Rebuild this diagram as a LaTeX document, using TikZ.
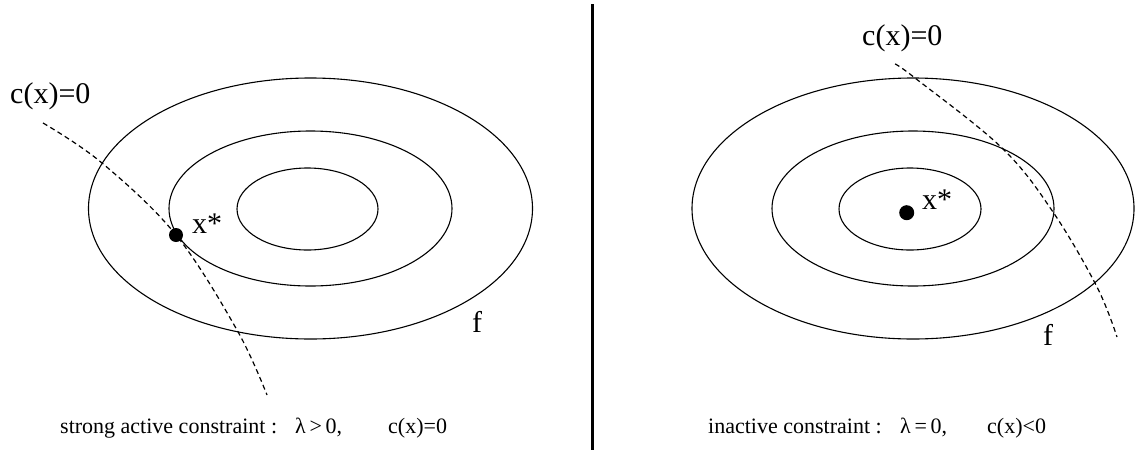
\documentclass[tikz,border=0pt]{standalone}
\usepackage{fontspec}
\setmainfont{Liberation Serif}
\begin{document}
\begin{tikzpicture}[x=1pt,y=-1pt,
  contour/.style={draw=black,line width=1.1pt},
  cdash/.style={draw=black,line width=1.2pt,dash pattern=on 5pt off 3.5pt},
  dotmark/.style={fill=black},
  biglabel/.style={inner sep=0pt,anchor=base west,font=\fontsize{30}{36}\selectfont},
  smalllabel/.style={inner sep=0pt,anchor=base west,font=\fontsize{22}{26}\selectfont},
  divider/.style={draw=black,line width=3pt}]
\useasboundingbox (0,0) rectangle (1137,450);
% ---------- left panel ----------
\coordinate (Lc) at (310.5,208.5);
\coordinate (Li) at (307.5,209);
\draw[contour] (Lc) ellipse [x radius=222, y radius=130.5];
\draw[contour] (Lc) ellipse [x radius=141.5, y radius=77.5];
\draw[contour] (Li) ellipse [x radius=70.5, y radius=41];
\draw[cdash] plot[smooth,tension=0.6] coordinates {(43,123) (102,163) (176,235) (237,330) (267,395)};
\fill[dotmark] (176,235) circle [radius=7];
\node[biglabel] (Lcx) at (10,103) {c(x)=0};
\node[biglabel] (Lxs) at (192,233) {x*};
\node[biglabel] (Lf) at (472,332) {f};
\node[smalllabel] (Lt1) at (60,433) {strong active constraint :};
\node[smalllabel] (Lt2) at (295,433) {λ\,>\,0,};
\node[smalllabel] (Lt3) at (388,433) {c(x)=0};
% ---------- divider ----------
\coordinate (Dtop) at (592,4);
\coordinate (Dbot) at (592,450);
\draw[divider] (Dtop) -- (Dbot);
% ---------- right panel ----------
\coordinate (Rc) at (913,208.5);
\coordinate (Ri) at (910,209);
\draw[contour] (Rc) ellipse [x radius=221, y radius=130.5];
\draw[contour] (Rc) ellipse [x radius=141, y radius=77.5];
\draw[contour] (Ri) ellipse [x radius=71, y radius=41];
\draw[cdash] plot[smooth,tension=0.6] coordinates {(895,64) (915,78) (1002,148) (1053,212) (1097,287) (1117,337)};
\fill[dotmark] (906.7,212.7) circle [radius=7.5];
\node[biglabel] (Rcx) at (862,45) {c(x)=0};
\node[biglabel] (Rxs) at (922,209) {x*};
\node[biglabel] (Rf) at (1043,345) {f};
\node[smalllabel] (Rt1) at (708,433) {inactive constraint :};
\node[smalllabel] (Rt2) at (900,433) {λ\,=\,0,};
\node[smalllabel] (Rt3) at (987,433) {c(x)<0};
\end{tikzpicture}
\end{document}
